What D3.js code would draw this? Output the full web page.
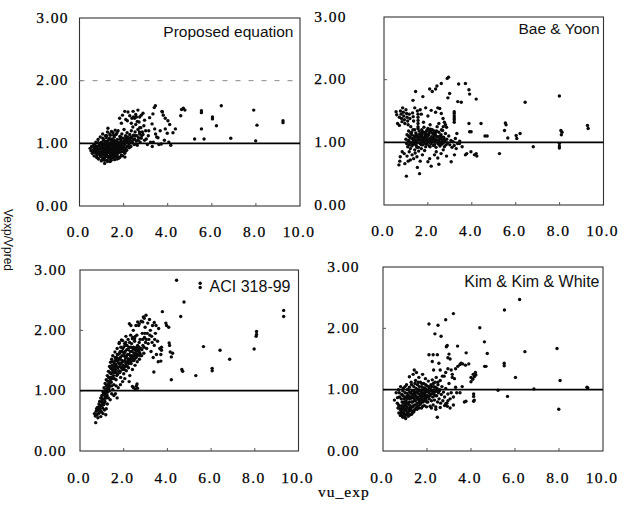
<!DOCTYPE html>
<html><head><meta charset="utf-8">
<script src="https://cdn.jsdelivr.net/npm/d3@7"></script>
<style>body{margin:0;background:#fff}svg{display:block}</style>
</head><body><svg id="c" width="632" height="507"></svg>
<script>
const xTicks=[0,2,4,6,8,10];
const yTicks=[0,1,2,3];
const panelTitles=["Proposed equation","Bae & Yoon","ACI 318-99","Kim & Kim & White"];
const xAxisLabel="vu_exp";
const yAxisLabel="Vexp/Vpred";

const proposedPts=[
[0.48,0.92],[0.52,0.88],[0.55,0.95],[0.58,0.84],[0.62,0.90],[0.65,0.98],[0.66,0.80],[0.70,0.86],[0.72,0.93],[0.74,1.02],[0.76,0.78],[0.78,0.88],[0.80,0.95],[0.82,0.83],[0.84,1.06],[0.86,0.75],[0.88,0.91],[0.90,0.99],[0.92,0.86],[0.94,1.10],[0.95,0.79],[0.97,0.94],[0.99,0.72],[1.00,1.02],[1.02,0.88],[1.04,0.97],[1.05,1.15],[1.07,0.83],[1.08,0.92],[1.10,1.05],[1.12,0.76],[1.13,0.98],[1.14,0.68],[1.16,0.89],[1.18,1.12],[1.19,0.81],[1.21,0.95],[1.22,1.03],[1.24,0.73],[1.25,0.87],[1.27,1.18],[1.28,0.92],[1.29,1.24],[1.30,1.00],[1.32,0.79],[1.33,0.94],[1.35,1.08],[1.36,0.85],[1.38,0.97],[1.39,0.71],[1.40,1.13],[1.42,0.90],[1.43,1.02],[1.45,0.82],[1.46,0.96],[1.48,1.07],[1.49,0.77],[1.50,0.88],[1.52,1.17],[1.53,0.93],[1.55,1.00],[1.56,0.84],[1.58,1.10],[1.59,0.74],[1.60,0.95],[1.62,1.04],[1.63,0.87],[1.65,0.79],[1.66,1.14],[1.68,0.92],[1.69,0.99],[1.71,0.83],[1.72,1.06],[1.74,0.95],[1.75,1.20],[1.77,0.88],[1.78,0.76],[1.80,1.01],[1.82,0.93],[1.83,1.11],[1.85,0.86],[1.87,0.97],[1.88,1.04],[1.90,0.81],[1.92,1.15],[1.93,0.91],[1.95,1.00],[1.97,0.87],[1.98,1.08],[2.00,0.94],[2.02,1.22],[2.04,0.98],[2.05,0.84],[2.07,1.05],[2.09,1.12],[2.10,0.92],[2.12,1.01],[2.14,0.89],[2.16,1.17],[2.18,1.03],[2.20,0.96],
[1.01,0.84],[1.11,0.90],[1.15,1.01],[1.20,0.86],[1.26,0.99],[1.31,0.88],[1.37,0.91],[1.41,0.80],[1.44,0.98],[1.47,0.86],[1.51,1.01],[1.54,0.80],[1.57,0.91],[1.61,0.86],[1.64,0.97],[1.67,0.82],[1.70,0.90],[1.73,0.98],[1.76,0.85],[1.79,0.94],[0.96,0.99],[0.91,0.82],[0.87,0.96],[0.83,0.90],[0.79,0.82],[0.73,0.89],[0.68,0.94],[1.06,0.77],[1.17,0.79],[1.23,0.83],[1.34,0.76],[1.44,0.73],[1.57,0.78],[1.70,0.75],[1.84,0.78],[1.96,0.80],[2.06,0.78],
[0.63,0.86],[0.71,0.97],[0.77,0.91],[0.81,0.77],[0.86,1.01],[0.89,0.84],[0.93,0.91],[0.98,0.81],[1.03,0.93],[1.06,1.08],[1.09,0.85],[1.11,0.97],[1.14,0.81],[1.17,0.93],[1.21,1.09],[1.23,0.90],[1.26,0.79],[1.29,0.95],[1.31,1.05],[1.34,0.87],[1.36,0.99],[1.39,0.83],[1.42,1.06],[1.45,0.92],[1.47,0.79],[1.50,0.95],[1.52,0.84],[1.55,1.05],[1.58,0.97],[1.60,0.81],[1.63,0.92],[1.66,1.02],[1.69,0.87],[1.72,0.79],[1.74,1.01],[1.77,0.92],[1.81,0.86],[1.84,0.99],[1.86,0.91],[1.89,1.09],[1.91,0.87],[1.94,0.95],[1.99,0.90],[2.03,1.00],[2.08,0.87],[2.11,1.09],[2.15,0.95],[2.19,1.10],[2.23,1.02],[2.26,0.93],[2.32,1.09],[2.36,1.01],[2.44,1.06],[2.53,1.12],[2.58,0.99],[2.66,1.05],[2.72,1.18],[2.82,1.12],[1.13,0.73],[1.27,0.71],[1.40,0.76],[1.02,0.74],[0.85,0.87],[0.75,0.84],[0.95,0.92],[1.05,0.88],[1.18,0.99],[1.32,0.93],[1.46,1.01],[1.60,0.89],[1.73,0.93],[1.86,1.07],[2.00,1.03],[2.14,1.06],[1.23,1.12],[1.37,1.15],[1.55,1.13],[1.70,1.17],[1.62,1.21],[1.45,1.19],
[2.22,1.08],[2.25,0.99],[2.28,1.14],[2.30,1.05],[2.33,0.95],[2.35,1.20],[2.38,1.10],[2.40,1.02],[2.42,1.26],[2.45,1.13],[2.48,0.98],[2.50,1.07],[2.52,1.18],[2.55,1.30],[2.57,1.04],[2.60,1.12],[2.62,0.97],[2.65,1.22],[2.68,1.09],[2.70,1.34],[2.73,1.15],[2.75,1.02],[2.78,1.25],[2.80,1.08],[2.85,1.18],[2.88,1.14],[2.92,1.28],[2.95,1.05],[3.00,1.20],[3.03,1.07],[3.08,0.98],[3.12,1.12],[3.14,1.20],[3.18,1.41],[3.22,1.02],[3.29,1.31],[3.30,0.95],[3.33,1.47],[3.41,1.23],[3.44,1.60],[3.50,1.10],[3.56,1.09],[3.60,0.98],[3.71,0.99],[3.74,1.51],[3.80,1.45],
[1.82,1.40],[1.90,1.32],[1.95,1.45],[2.05,1.51],[2.10,1.38],[2.17,1.36],[2.20,1.50],[2.28,1.44],[2.35,1.32],[2.43,1.51],[2.50,1.40],[2.58,1.42],[2.65,1.53],[2.73,1.42],[2.80,1.45],[2.88,1.48],[2.95,1.37],[2.73,1.25],[2.62,1.35],[2.45,1.42],[2.38,1.40],[2.55,1.46],
[3.39,1.57],[3.76,1.50],[3.89,1.40],[4.01,1.36],[3.89,1.23],[4.09,1.30],[4.35,1.23],[4.24,1.17],[3.98,1.16],[4.14,0.97],[4.63,1.54],[4.71,1.56],[4.78,1.53],[4.59,1.44],[5.53,1.52],[5.53,1.49],[6.43,1.60],[6.03,1.42],[6.03,1.39],[6.21,1.28],[5.53,1.23],[5.22,1.07],[5.65,1.07],[6.86,1.08],[7.90,1.53],[8.05,1.29],[7.99,1.04],[9.23,1.36],[9.23,1.33],[3.85,1.05],[4.05,1.02],[3.66,1.20],[3.45,1.15],[3.35,1.02]
];

const baeYoonPts=[
[2.94,2.04],[2.88,2.02],[2.61,1.94],[2.41,1.90],[2.35,1.85],[3.40,1.93],[3.71,1.94],[3.87,1.84],[3.90,1.77],[4.20,1.69],[3.52,1.64],[3.36,1.65],[2.99,1.78],[2.91,1.71],[2.08,1.85],[2.20,1.81],[1.44,1.81],[1.32,1.67],[1.77,1.73],[6.43,1.64],[7.99,1.74],[8.06,1.19],[8.11,1.16],[8.08,1.12],[9.27,1.27],[9.30,1.22],[7.99,0.98],[7.99,0.94],[7.99,0.91],[6.80,0.93],[6.02,1.11],[6.05,1.06],[6.20,1.14],[5.53,1.31],[5.56,1.28],[5.49,1.19],[5.64,1.07],[5.26,0.82],[4.60,1.10],[4.70,1.10],[4.42,1.30],[3.87,1.30],[3.90,1.17],[3.97,1.17],[3.20,1.49],[3.20,1.46],[3.20,1.42],[3.20,1.39],[3.20,1.36],[3.20,1.32],[3.32,1.14],[3.56,0.93],[3.71,0.80],[3.77,0.82],[3.96,0.85],[4.12,0.80],[4.23,0.78],[4.20,0.82],[3.21,0.80],[3.06,0.69],[3.29,0.90],[3.44,0.98],[1.02,0.46],[1.62,0.50],[0.68,0.64],[0.74,0.77],[0.83,0.85],[0.72,0.70],
[0.55,1.49],[0.58,1.44],[0.62,1.30],[0.70,1.27],[0.70,1.40],[0.75,1.50],[0.78,1.45],[0.80,1.38],[0.82,1.33],[0.85,1.55],[0.88,1.48],[0.90,1.42],[0.93,1.36],[0.95,1.30],[1.00,1.52],[1.03,1.46],[1.05,1.40],[1.08,1.34],[1.10,1.28],[1.15,1.45],[1.18,1.38],[1.22,1.25],[1.30,1.47],[1.33,1.41],[1.35,1.34],[1.40,1.55],[1.52,1.50],[1.55,1.45],[1.55,1.40],[1.55,1.35],[1.55,1.30],[1.55,1.25],[1.65,1.52],[1.70,1.45],[1.72,1.20],[1.80,1.32],[1.90,1.55],[2.00,1.42],[2.10,1.28],[2.15,1.51],[2.35,1.48],[2.45,1.55],[2.54,1.54],[2.61,1.46],[2.69,1.38],[2.75,1.32],[2.80,1.28],[2.85,1.24],[2.70,1.25],[2.50,1.30],[2.62,1.20],
[1.00,1.05],[1.03,0.98],[1.05,1.12],[1.08,0.93],[1.10,1.02],[1.12,1.18],[1.15,0.96],[1.17,1.08],[1.20,0.90],[1.22,1.14],[1.25,1.00],[1.27,0.94],[1.30,1.06],[1.32,1.20],[1.35,0.97],[1.37,1.10],[1.40,0.88],[1.42,1.03],[1.45,1.15],[1.47,0.95],[1.50,1.08],[1.52,1.00],[1.55,1.22],[1.57,0.92],[1.60,1.05],[1.62,1.13],[1.65,0.98],[1.67,1.09],[1.70,0.90],[1.72,1.02],[1.75,1.17],[1.77,0.96],[1.80,1.07],[1.82,1.24],[1.85,0.99],[1.87,1.12],[1.90,0.93],[1.92,1.04],[1.95,1.19],[1.97,0.97],[2.00,1.10],[2.02,1.01],[2.05,1.15],[2.07,0.94],[2.10,1.06],[2.12,1.21],[2.15,0.98],[2.17,1.09],[2.20,1.02],[2.22,1.14],[2.25,0.95],[2.27,1.07],[2.30,1.18],[2.32,1.00],[2.35,1.11],[2.37,0.92],[2.40,1.04],[2.42,1.25],[2.45,0.98],[2.47,1.09],[2.50,1.16],[2.52,1.01],[2.55,0.94],[2.57,1.06],[2.60,1.12],[2.62,0.97],[2.65,1.03],[2.67,1.19],[2.70,0.99],[2.72,1.08],[2.75,0.93],[2.78,1.02],[2.80,1.14],[2.83,0.96],[2.86,1.05],[2.90,0.99],[2.95,1.10],[3.00,0.96],[3.05,1.03],[3.10,0.92],[3.15,1.01],[3.20,0.95],[3.25,1.06],[3.35,0.98],[3.45,1.02],[1.13,1.03],[1.23,1.07],[1.33,1.02],[1.43,1.09],[1.53,1.04],[1.63,0.99],[1.73,1.10],[1.83,1.03],[1.93,1.08],[2.03,1.05],[2.13,1.03],[2.23,1.08],[2.33,1.05],[2.43,1.02],[1.48,1.12],[1.68,1.15],[1.88,1.16],[2.08,1.18],[2.28,1.12],
[1.12,1.10],[1.18,0.99],[1.26,1.12],[1.38,1.05],[1.46,0.99],[1.58,1.09],[1.64,1.04],[1.72,1.13],[1.79,1.00],[1.86,1.08],[1.96,1.02],[2.04,1.12],[2.11,0.99],[2.19,1.06],[2.26,1.01],[2.34,1.15],[2.41,1.09],[2.48,1.04],[2.56,1.10],[2.64,1.08],[2.74,1.05],[1.30,0.97],[1.50,0.92],[1.70,0.96],[1.90,0.98],[2.10,0.93],[2.30,0.96],[2.50,0.97],[1.40,1.20],[1.60,1.18],[1.80,1.16],[2.00,1.22],[2.20,1.20],[2.40,1.18],[1.25,1.16],[1.95,1.13],[2.15,1.16],[1.75,1.06],[2.25,1.04],[2.55,1.00],
[0.92,0.82],[1.05,0.78],[1.15,0.85],[1.20,0.72],[1.28,0.80],[1.35,0.74],[1.42,0.83],[1.50,0.77],[1.58,0.86],[1.65,0.70],[1.75,0.80],[1.85,0.87],[2.00,0.69],[2.08,0.74],[2.15,0.62],[2.30,0.80],[2.38,0.85],[2.45,0.75],[2.50,0.65],[2.60,0.82],[2.70,0.88],[2.85,0.78],[1.52,0.60],[0.95,0.66],[1.10,0.70]
];

const aciPts=[
[0.72,0.47],[0.66,0.62],[0.70,0.58],[0.74,0.66],[0.78,0.60],[0.80,0.72],[0.82,0.55],[0.85,0.68],[0.87,0.78],[0.88,0.63],[0.90,0.82],[0.92,0.70],[0.95,0.88],[0.97,0.75],[0.98,0.65],[1.00,0.92],[1.02,0.80],[1.04,0.71],[1.05,0.98],[1.07,0.86],[1.09,0.77],[1.10,1.05],[1.12,0.93],[1.14,0.82],[1.15,1.12],[1.17,0.97],[1.18,0.60],[1.19,0.88],[1.20,1.18],[1.22,1.03],[1.24,0.92],[1.25,1.25],[1.27,1.10],[1.28,0.98],[1.30,1.32],[1.32,1.15],[1.33,1.05],[1.35,1.40],[1.37,1.22],[1.38,1.08],[1.40,1.47],[1.42,1.28],[1.43,1.14],[1.45,1.52],[1.47,1.35],[1.48,1.20],[1.50,1.58],[1.52,1.40],[1.53,1.25],[1.55,1.10],[1.57,1.45],[1.58,1.30],[1.60,1.64],[1.62,1.50],[1.63,1.35],[1.65,1.18],[1.67,1.55],[1.68,1.40],[1.70,1.70],[1.72,1.27],[1.74,1.48],[1.75,1.60],[1.77,1.33],[1.79,1.78],[1.80,1.52],[1.82,1.40],[1.84,1.65],[1.86,1.22],[1.88,1.45],[1.90,1.84],[1.92,1.58],[1.94,1.35],[1.96,1.70],[1.98,1.48],[2.00,1.28],[2.02,1.62],[2.04,1.78],[2.06,1.40],[2.08,1.55],[2.10,1.90],[2.12,1.33],[2.14,1.68],[2.16,1.47],[2.18,1.60],[2.20,1.85],[2.22,1.38],[2.24,1.72],[2.26,1.52],[2.28,1.25],[2.30,1.65],[2.32,1.92],[2.34,1.45],[2.36,1.78],[2.38,1.58],[2.40,1.35],[2.42,1.70],[2.44,2.00],[2.46,1.50],[2.48,1.62],[2.50,1.82],[2.52,1.42],[2.55,1.68],[2.57,1.55],[2.60,1.92],[2.62,1.48],[2.64,1.75],[2.66,1.60],[2.68,2.08],[2.70,1.65],[2.72,1.52],[2.75,1.85],[2.78,1.70],[2.80,2.15],[2.82,1.58],[2.85,1.95],[2.88,1.75],[2.90,2.22],[2.92,1.62],[2.95,1.88],[2.98,2.05],[3.00,1.80],[3.02,2.25],[3.05,1.70],[3.08,1.95],[3.10,2.12],[3.15,1.85],[3.18,2.18],[3.22,2.00],[3.25,1.65],[3.28,1.90],[3.32,2.08],[3.35,1.55],[3.38,1.31],[3.40,1.75],[3.45,1.95],[3.50,1.60],[3.55,1.82],[3.58,1.48],[3.60,2.03],[3.65,1.70],
[0.76,0.70],[0.84,0.62],[0.89,0.74],[0.93,0.66],[0.99,0.87],[1.03,0.76],[1.08,0.95],[1.11,0.80],[1.13,1.00],[1.16,0.88],[1.21,1.08],[1.23,0.97],[1.26,1.16],[1.29,1.02],[1.31,1.22],[1.34,1.12],[1.36,1.30],[1.39,1.18],[1.41,1.37],[1.44,1.22],[1.46,1.42],[1.49,1.30],[1.51,1.48],[1.54,1.35],[1.56,1.20],[1.59,1.40],[1.61,1.55],[1.64,1.44],[1.66,1.30],[1.69,1.50],[1.71,1.60],[1.73,1.38],[1.76,1.53],[1.78,1.45],[1.81,1.62],[1.83,1.32],[1.85,1.55],[1.87,1.72],[1.89,1.38],[1.91,1.50],[1.93,1.65],[1.97,1.42],[1.99,1.58],[2.01,1.73],[2.03,1.35],[2.05,1.50],[2.07,1.65],[2.09,1.80],[2.11,1.42],[2.13,1.58],[2.15,1.75],[2.17,1.40],[2.19,1.53],[2.21,1.68],[2.23,1.45],[2.25,1.60],[2.27,1.80],[2.29,1.48],[2.31,1.58],[2.33,1.72],[2.37,1.50],[2.39,1.65],[2.41,1.88],[2.43,1.55],[2.45,1.72],[2.49,1.52],[2.51,1.68],[2.53,1.90],[2.56,1.60],[2.59,1.72],[2.63,1.58],[2.67,1.68],[2.71,1.80],[2.74,1.62],[2.77,1.58],[2.83,1.68],[2.87,1.85],[2.93,1.72],[2.97,1.95],[3.03,1.85],[3.12,1.78],[3.20,1.92],[3.30,1.80],[3.42,1.85],
[2.40,1.07],[2.45,1.05],[2.52,1.03],[2.58,1.08],[2.61,1.11],[2.63,1.04],[2.25,1.15],[2.05,1.20],[1.95,1.15],[1.85,1.10],[1.75,1.05],[1.62,0.95],[1.70,0.88],[1.55,0.92],[1.45,0.95],[1.38,0.85],[1.30,0.88],[1.25,0.78],[1.20,0.70],[1.12,0.68],[1.05,0.62],[0.95,0.57],[1.35,1.00],[1.50,1.02],[1.65,1.08],[1.45,1.08],[1.20,0.93],[1.10,0.86],[1.00,0.82],[0.92,0.75],[1.15,0.91],[1.28,1.05],[1.40,1.15],[1.55,1.20],[1.68,1.25],[1.82,1.30],[1.95,1.38],[2.10,1.45],[2.20,1.50],[2.35,1.55],[2.48,1.58],[2.58,1.65],[2.70,1.72],
[2.26,2.11],[2.33,2.08],[2.56,2.08],[2.64,2.14],[2.71,2.11],[2.87,2.14],[2.94,2.20],[3.40,2.13],[3.48,2.08],[1.80,1.80],[1.95,1.83],[2.10,1.75],[2.40,1.86],[2.50,1.86],
[4.42,2.83],[5.50,2.78],[5.50,2.71],[4.76,2.47],[4.61,2.23],[3.77,2.31],[3.93,2.12],[3.96,2.08],[4.06,2.05],[9.32,2.33],[9.32,2.23],[8.08,1.98],[8.08,1.93],[8.06,1.90],[7.97,1.69],[6.85,1.52],[6.41,1.67],[5.65,1.73],[6.05,1.37],[6.05,1.33],[5.30,1.25],[4.66,1.35],[4.70,1.32],[4.18,1.18],[4.08,1.79],[4.10,1.75],[4.13,1.64],[4.24,1.62],[4.18,1.56],[3.73,1.72],[3.73,1.67],[3.70,1.60],[3.70,1.49]
];

const kkwPts=[
[6.21,2.47],[5.52,2.30],[4.40,2.01],[3.20,2.24],[2.85,2.14],[2.50,2.05],[2.09,2.07],[2.36,1.91],[2.64,1.87],[2.92,1.72],[2.88,1.70],[3.39,1.71],[4.61,1.78],[4.74,1.59],[6.45,1.62],[7.91,1.67],[8.05,1.15],[7.99,0.68],[9.27,1.04],[9.31,1.03],[6.86,1.01],[6.02,1.20],[5.51,1.43],[5.51,1.39],[5.66,0.89],[5.23,0.99],[4.62,1.38],[4.68,1.38],[4.12,0.89],[4.12,0.81],[4.12,0.93],[3.77,0.81],[3.78,1.60],[3.50,1.41],[3.62,1.42],[3.75,1.40],[3.90,1.42],[4.00,1.20],[4.10,1.25],[4.20,1.28],[2.47,0.55],[2.92,0.73],[2.85,0.77],[2.09,1.57],[2.28,1.57],[2.47,1.57],[3.00,1.58],[3.30,1.34],[3.30,1.04],[3.05,1.50],[2.95,1.52],
[0.52,0.83],[0.60,0.95],[0.65,0.78],[0.68,0.70],[0.70,1.00],[0.72,0.62],[0.75,0.88],[0.77,0.73],[0.80,1.05],[0.82,0.66],[0.84,0.58],[0.85,0.92],[0.87,0.80],[0.88,0.70],[0.90,0.55],[0.92,1.02],[0.93,0.63],[0.95,0.85],[0.97,0.74],[0.98,0.60],[1.00,0.95],[1.02,0.68],[1.03,0.53],[1.05,0.82],[1.07,1.08],[1.08,0.72],[1.10,0.62],[1.12,0.90],[1.13,0.57],[1.15,1.00],[1.17,0.76],[1.18,0.66],[1.20,1.21],[1.22,0.85],[1.23,0.59],[1.25,0.95],[1.27,0.70],[1.28,1.12],[1.30,0.80],[1.32,0.64],[1.33,0.98],[1.35,0.88],[1.37,1.25],[1.38,0.74],[1.40,1.05],[1.42,1.32],[1.43,0.67],[1.45,0.92],[1.47,0.82],[1.48,1.15],[1.50,0.70],[1.52,1.28],[1.53,0.96],[1.55,0.78],[1.57,1.08],[1.58,0.88],[1.60,0.72],[1.62,1.00],[1.63,1.20],[1.65,0.84],[1.67,0.93],[1.68,0.76],[1.70,1.12],[1.72,0.86],[1.73,0.98],[1.75,0.70],[1.77,1.05],[1.78,0.90],[1.80,1.25],[1.82,0.80],[1.83,0.95],[1.85,1.10],[1.87,0.87],[1.88,0.74],[1.90,1.02],[1.92,0.92],[1.93,1.18],[1.95,0.84],[1.97,0.97],[1.98,0.72],[2.00,1.06],[2.02,0.90],[2.04,0.80],[2.06,1.14],[2.08,0.95],[2.10,0.85],[2.12,1.02],[2.14,0.73],[2.16,0.92],[2.18,1.08],[2.20,0.82],[2.22,0.98],[2.24,1.16],[2.26,0.88],[2.28,0.75],[2.30,1.05],[2.32,0.93],[2.34,0.83],[2.36,1.12],[2.38,0.97],[2.40,0.72],[2.42,1.20],[2.44,0.90],[2.46,1.02],[2.48,0.80],[2.50,1.08],[2.52,0.95],[2.55,0.85],[2.58,1.00],[2.60,1.15],[2.62,0.78],[2.65,0.92],[2.68,1.05],[2.72,0.82],[2.75,0.96],[2.78,1.22],[2.80,0.88],[2.85,1.02],[2.90,0.78],[2.95,0.93],[3.00,1.10],[3.05,0.85],[3.10,0.95],[3.15,1.20],[3.20,0.88],[3.05,0.70],[2.80,0.74],[2.60,0.71],[2.40,0.68],[2.20,0.70],
[0.80,0.62],[0.90,0.68],[1.00,0.58],[1.05,0.66],[1.15,0.62],[1.25,0.66],[0.95,0.70],[1.10,0.78],[1.20,0.70],[1.35,0.72],[1.45,0.75],[1.55,0.68],[1.65,0.80],[1.75,0.82],[0.85,0.63],[0.78,0.68],[1.30,0.60],[1.40,0.64],[0.98,0.80],[1.08,0.86],[1.18,0.90],[1.28,0.88],[1.38,0.92],[1.48,0.96],[1.58,0.94],[1.68,0.99],[1.78,1.00],[1.88,1.03],[1.98,1.00],[2.08,1.05],[2.18,1.00],[2.28,0.98],[2.38,1.04],
[0.66,0.87],[0.71,0.75],[0.74,0.95],[0.79,0.58],[0.83,0.85],[0.86,0.74],[0.89,0.62],[0.91,0.90],[0.94,0.78],[0.96,0.56],[0.99,0.67],[1.01,0.88],[1.04,0.75],[1.06,0.60],[1.09,0.94],[1.11,0.70],[1.14,0.86],[1.16,0.57],[1.19,0.80],[1.21,0.96],[1.24,0.74],[1.26,0.86],[1.29,0.66],[1.31,0.93],[1.34,0.80],[1.36,0.63],[1.39,0.86],[1.41,0.97],[1.44,0.82],[1.46,0.68],[1.49,0.89],[1.51,1.02],[1.54,0.86],[1.56,0.74],[1.59,0.98],[1.61,0.84],[1.64,0.70],[1.66,1.05],[1.69,0.90],[1.71,0.78],[1.74,0.94],[1.76,1.10],[1.79,0.85],[1.81,0.73],[1.84,0.90],[1.86,1.00],[1.89,0.82],[1.91,0.96],[1.94,1.08],[1.96,0.88],[1.99,0.80],[2.01,0.98],[2.05,0.88],[2.09,1.00],[2.13,0.90],[2.17,0.98],[2.21,1.05],[2.25,0.94],[2.29,1.10],[2.33,1.00],[2.37,0.90],[2.43,0.98],[2.49,1.12],[2.56,0.98],[1.10,1.00],[1.00,1.05],[0.90,0.98],[1.20,1.04],[1.30,1.08],[1.45,1.10],[1.60,1.12],
[2.24,1.46],[2.54,1.43],[2.60,1.32],[2.30,1.32],[2.70,1.22],[2.85,1.28],[2.95,1.34],[3.10,1.32],[3.15,1.25],[3.25,1.18],[3.40,1.38],[3.55,1.43],[4.00,1.13],[4.08,1.17],[4.15,1.21],[4.22,1.24],[3.70,0.80],[4.15,0.83],[3.50,0.95],[3.60,1.05],[3.35,0.95],[3.20,0.75],[2.95,0.82]
];

const panelData=[proposedPts,baeYoonPts,aciPts,kkwPts];

// layout (pixel geometry) for each panel
const layouts=[
 {xr:[79.5,300],yr:[206,18],ylabX:69,xlabY:236.5,tx:293.5,ty:36.5,ts:15.5,dashed:true},
 {xr:[384,603.5],yr:[205,17],ylabX:347,xlabY:235.5,tx:599.5,ty:33.5,ts:15.5,dashed:false},
 {xr:[80,298.5],yr:[451,270],ylabX:67,xlabY:483,tx:290.5,ty:291.5,ts:16,dashed:false},
 {xr:[383,603],yr:[451,267],ylabX:360,xlabY:483,tx:599.5,ty:286.5,ts:16,dashed:false}
];

const svg=d3.select("#c");
const serif="Liberation Serif, Times New Roman, serif";
const sans="Liberation Sans, Arial, sans-serif";

layouts.forEach((L,i)=>{
  const x=d3.scaleLinear().domain([0,10]).range(L.xr);
  const y=d3.scaleLinear().domain([0,3]).range(L.yr);
  const g=svg.append("g");
  g.append("rect").attr("x",L.xr[0]).attr("y",L.yr[1])
    .attr("width",L.xr[1]-L.xr[0]).attr("height",L.yr[0]-L.yr[1])
    .attr("fill","none").attr("stroke","#333").attr("stroke-width",1.1);
  g.selectAll(".xt").data(xTicks.slice(1,-1)).enter().append("line")
    .attr("x1",d=>x(d)).attr("x2",d=>x(d)).attr("y1",L.yr[0]).attr("y2",L.yr[0]-3)
    .attr("stroke","#555").attr("stroke-width",1);
  g.selectAll(".yt").data(yTicks.slice(1,-1)).enter().append("line")
    .attr("x1",L.xr[0]).attr("x2",L.xr[0]+3).attr("y1",d=>y(d)).attr("y2",d=>y(d))
    .attr("stroke","#555").attr("stroke-width",1);
  if(L.dashed){
    g.append("line").attr("x1",L.xr[0]).attr("x2",L.xr[1]).attr("y1",y(2)).attr("y2",y(2))
      .attr("stroke","#8a8a8a").attr("stroke-width",1).attr("stroke-dasharray","5,8");
  }
  g.append("line").attr("x1",L.xr[0]).attr("x2",L.xr[1]).attr("y1",y(1)).attr("y2",y(1))
    .attr("stroke","#000").attr("stroke-width",1.6);
  g.selectAll("circle").data(panelData[i]).enter().append("circle")
    .attr("cx",d=>x(d[0])).attr("cy",d=>y(d[1])).attr("r",1.7).attr("fill","#0a0a0a");
  g.selectAll(".yl").data(yTicks).enter().append("text")
    .attr("x",L.ylabX).attr("y",d=>y(d)+4.5).attr("text-anchor","end")
    .attr("font-family",serif).attr("font-size",15.5).attr("letter-spacing",1.4)
    .attr("fill","#000").attr("stroke","#000").attr("stroke-width",0.25)
    .text(d=>d3.format(".2f")(d));
  g.selectAll(".xl").data(xTicks).enter().append("text")
    .attr("x",d=>x(d)-1).attr("y",L.xlabY).attr("text-anchor","middle")
    .attr("font-family",serif).attr("font-size",15.5).attr("letter-spacing",1.4)
    .attr("fill","#000").attr("stroke","#000").attr("stroke-width",0.25)
    .text(d=>d3.format(".1f")(d));
  g.append("text").attr("x",L.tx).attr("y",L.ty).attr("text-anchor","end")
    .attr("font-family",sans).attr("font-size",L.ts).attr("fill","#111").text(panelTitles[i]);
});

svg.append("text").attr("transform","translate(4,240) rotate(90)")
  .attr("text-anchor","middle").attr("font-family",sans).attr("font-size",12)
  .attr("fill","#111").text(yAxisLabel);
svg.append("text").attr("x",318).attr("y",497).attr("font-family",serif)
  .attr("font-size",15.5).attr("letter-spacing",1).attr("fill","#000")
  .attr("stroke","#000").attr("stroke-width",0.2).text(xAxisLabel);
</script></body></html>
